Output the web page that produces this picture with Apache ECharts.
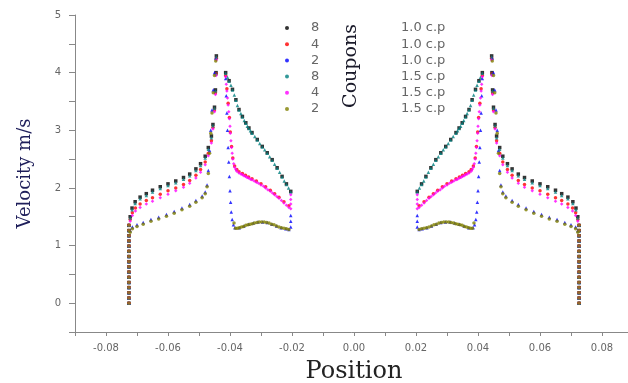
<!DOCTYPE html>
<html>
<head>
<meta charset="utf-8">
<script src="https://cdn.jsdelivr.net/npm/echarts@6/dist/echarts.min.js"></script>
<style>
  html, body { margin: 0; padding: 0; background: #fff; }
  #chart { width: 628px; height: 383px; }
</style>
</head>
<body>
<div id="chart"></div>
<script>
  // left half of each profile, [position, velocity]; the right half is its mirror
  const edgeY = [0, 0.09, 0.18, 0.27, 0.36, 0.45, 0.54, 0.63, 0.72, 0.81, 0.9, 0.99, 1.08, 1.17, 1.26, 1.35]

  const outer8a = [[-0.0722, 1.5], [-0.0716, 1.65], [-0.0706, 1.76], [-0.069, 1.84], [-0.067, 1.9], [-0.065, 1.96], [-0.0625, 2.02], [-0.06, 2.07], [-0.0575, 2.12], [-0.055, 2.18], [-0.053, 2.24], [-0.051, 2.33], [-0.0495, 2.42], [-0.048, 2.55], [-0.047, 2.7], [-0.046, 2.9], [-0.0455, 3.1], [-0.045, 3.4], [-0.0447, 3.7], [-0.0445, 4.0], [-0.0444, 4.29]]
  const outer4a = [[-0.0722, 1.45], [-0.0715, 1.57], [-0.0705, 1.65], [-0.069, 1.72], [-0.067, 1.78], [-0.065, 1.83], [-0.0625, 1.89], [-0.06, 1.95], [-0.0575, 2.0], [-0.055, 2.06], [-0.053, 2.13], [-0.051, 2.22], [-0.0495, 2.32], [-0.048, 2.45], [-0.047, 2.6], [-0.046, 2.82], [-0.0455, 3.05], [-0.045, 3.35], [-0.0447, 3.65], [-0.0445, 3.98], [-0.0444, 4.25]]
  const outer2a = [[-0.0722, 1.26], [-0.0715, 1.32], [-0.07, 1.36], [-0.068, 1.4], [-0.0655, 1.45], [-0.063, 1.49], [-0.0605, 1.54], [-0.058, 1.59], [-0.0555, 1.65], [-0.053, 1.71], [-0.051, 1.78], [-0.049, 1.86], [-0.048, 1.93], [-0.0474, 2.05], [-0.047, 2.3], [-0.0466, 2.65], [-0.0462, 3.0], [-0.0458, 3.35], [-0.0454, 3.7], [-0.045, 4.0], [-0.0446, 4.25]]
  const outer8b = [[-0.0722, 1.48], [-0.0716, 1.62], [-0.0706, 1.73], [-0.069, 1.81], [-0.067, 1.87], [-0.065, 1.93], [-0.0625, 1.99], [-0.06, 2.04], [-0.0575, 2.09], [-0.055, 2.15], [-0.053, 2.21], [-0.051, 2.3], [-0.0495, 2.39], [-0.048, 2.52], [-0.047, 2.67], [-0.046, 2.87], [-0.0455, 3.08], [-0.045, 3.38], [-0.0447, 3.68], [-0.0445, 3.98], [-0.0444, 4.27]]
  const outer4b = [[-0.0722, 1.42], [-0.0715, 1.52], [-0.0705, 1.6], [-0.069, 1.66], [-0.067, 1.72], [-0.065, 1.77], [-0.0625, 1.83], [-0.06, 1.89], [-0.0575, 1.95], [-0.055, 2.01], [-0.053, 2.08], [-0.051, 2.17], [-0.0495, 2.27], [-0.048, 2.4], [-0.047, 2.56], [-0.046, 2.78], [-0.0455, 3.02], [-0.045, 3.32], [-0.0447, 3.62], [-0.0445, 3.95], [-0.0444, 4.22]]
  const outer2b = [[-0.0722, 1.23], [-0.0715, 1.29], [-0.07, 1.33], [-0.068, 1.37], [-0.0655, 1.42], [-0.063, 1.46], [-0.0605, 1.51], [-0.058, 1.56], [-0.0555, 1.62], [-0.053, 1.68], [-0.051, 1.75], [-0.049, 1.83], [-0.048, 1.9], [-0.0474, 2.02], [-0.047, 2.25], [-0.0466, 2.6], [-0.0462, 2.95], [-0.0458, 3.3], [-0.0454, 3.65], [-0.045, 3.95], [-0.0446, 4.2]]

  const inner8a = [[-0.0414, 4.0], [-0.0403, 3.86], [-0.0392, 3.71], [-0.0381, 3.53], [-0.0371, 3.36], [-0.036, 3.24], [-0.0349, 3.13], [-0.0339, 3.04], [-0.0329, 2.96], [-0.0312, 2.84], [-0.0296, 2.72], [-0.028, 2.61], [-0.0264, 2.49], [-0.0248, 2.35], [-0.0232, 2.2], [-0.0218, 2.07], [-0.0204, 1.94]]
  const inner8b = [[-0.0414, 3.99], [-0.0408, 3.92], [-0.0403, 3.85], [-0.0397, 3.78], [-0.0392, 3.7], [-0.0386, 3.61], [-0.0381, 3.52], [-0.0376, 3.43], [-0.0371, 3.35], [-0.0365, 3.29], [-0.036, 3.23], [-0.0354, 3.17], [-0.0349, 3.12], [-0.0344, 3.07], [-0.0339, 3.03], [-0.0334, 2.99], [-0.0329, 2.95], [-0.032, 2.89], [-0.0312, 2.83], [-0.0304, 2.77], [-0.0296, 2.71], [-0.0288, 2.66], [-0.028, 2.6], [-0.0272, 2.54], [-0.0264, 2.48], [-0.0256, 2.41], [-0.0248, 2.34], [-0.024, 2.27], [-0.0232, 2.19], [-0.0225, 2.12], [-0.0218, 2.06], [-0.0211, 2.0], [-0.0204, 1.93]]
  const inner4a = [[-0.0414, 3.95], [-0.041, 3.72], [-0.0406, 3.47], [-0.0402, 3.22], [-0.0399, 2.97], [-0.0395, 2.72], [-0.0391, 2.52], [-0.0385, 2.38], [-0.0378, 2.32], [-0.0371, 2.28], [-0.036, 2.25], [-0.035, 2.22], [-0.034, 2.19], [-0.0329, 2.16], [-0.0315, 2.12], [-0.03, 2.07], [-0.0285, 2.02], [-0.027, 1.96], [-0.0256, 1.9], [-0.0242, 1.84], [-0.0226, 1.76], [-0.021, 1.69]]
  const inner4b = [[-0.0414, 3.93], [-0.0412, 3.8], [-0.041, 3.68], [-0.0408, 3.56], [-0.0406, 3.44], [-0.0404, 3.32], [-0.0402, 3.2], [-0.04, 3.07], [-0.0399, 2.95], [-0.0397, 2.82], [-0.0395, 2.7], [-0.0393, 2.6], [-0.0391, 2.5], [-0.0388, 2.42], [-0.0385, 2.36], [-0.0381, 2.32], [-0.0378, 2.29], [-0.0371, 2.26], [-0.0365, 2.24], [-0.036, 2.23], [-0.0355, 2.21], [-0.035, 2.2], [-0.0345, 2.18], [-0.034, 2.17], [-0.0334, 2.15], [-0.0329, 2.14], [-0.0322, 2.12], [-0.0315, 2.1], [-0.0308, 2.08], [-0.03, 2.05], [-0.0292, 2.03], [-0.0285, 2.0], [-0.0278, 1.97], [-0.027, 1.94], [-0.0263, 1.91], [-0.0256, 1.88], [-0.0249, 1.85], [-0.0242, 1.82], [-0.0234, 1.78], [-0.0226, 1.74], [-0.0218, 1.7], [-0.021, 1.66], [-0.0204, 1.64], [-0.0204, 1.72], [-0.0204, 1.8], [-0.0204, 1.88]]
  const inner2a = [[-0.0414, 3.9], [-0.0412, 3.6], [-0.041, 3.3], [-0.0408, 3.0], [-0.0406, 2.7], [-0.0404, 2.45], [-0.0402, 2.2], [-0.04, 1.95], [-0.0398, 1.75], [-0.0396, 1.58], [-0.0393, 1.45], [-0.0389, 1.36], [-0.0384, 1.31], [-0.037, 1.31], [-0.0355, 1.34], [-0.034, 1.37], [-0.0325, 1.39], [-0.031, 1.41], [-0.0295, 1.41], [-0.028, 1.4], [-0.0265, 1.37], [-0.025, 1.34], [-0.0235, 1.31], [-0.022, 1.29], [-0.021, 1.28], [-0.0204, 1.32], [-0.0204, 1.42], [-0.0204, 1.52]]
  const inner2b = [[-0.0387, 1.39], [-0.0382, 1.3], [-0.0376, 1.3], [-0.037, 1.31], [-0.0363, 1.32], [-0.0356, 1.33], [-0.0349, 1.35], [-0.0342, 1.36], [-0.0335, 1.37], [-0.0328, 1.38], [-0.0321, 1.39], [-0.0313, 1.4], [-0.0306, 1.41], [-0.0298, 1.41], [-0.029, 1.41], [-0.0282, 1.4], [-0.0274, 1.39], [-0.0266, 1.37], [-0.0258, 1.36], [-0.025, 1.34], [-0.0242, 1.32], [-0.0234, 1.31], [-0.0226, 1.3], [-0.0218, 1.29], [-0.021, 1.28]]

  const seriesNames = ['8 1.0 c.p', '4 1.0 c.p', '2 1.0 c.p', '8 1.5 c.p', '4 1.5 c.p', '2 1.5 c.p']
  const colors = ['#000000', '#ff0000', '#0000ff', '#008080', '#ff00ff', '#808000']
  const symbols = ['rect', 'circle', 'triangle', 'triangle', 'diamond', 'circle']
  const outerPts = [outer8a, outer4a, outer2a, outer8b, outer4b, outer2b]
  const innerPts = [inner8a, inner4a, inner2a, inner8b, inner4b, inner2b]
  const edgeX = -0.0726

  const chart = echarts.init(document.getElementById('chart'))

  const series = seriesNames.map((name, i) => {
    const edge = edgeY.map((y) => [edgeX, y])
    const left = edge.concat(outerPts[i], innerPts[i])
    const right = left.map((p) => [-p[0], p[1]])
    return {
      name: name,
      type: 'scatter',
      symbol: symbols[i],
      symbolSize: 3.5,
      itemStyle: { color: colors[i] },
      data: left.concat(right),
    }
  })

  const option = {
    animation: false,
    grid: { left: 75, right: -5, top: 15, bottom: 51, containLabel: false, outerBoundsMode: 'none' },
    legend: {
      orient: 'vertical',
      left: 280,
      top: 16,
      itemWidth: 4,
      itemHeight: 4,
      itemGap: 2.2,
      data: seriesNames.map((n) => ({ name: n, icon: 'circle' })),
      formatter: (n) => {
        const k = n.indexOf(' ')
        return '{g|}{n|' + n.slice(0, k) + '}{c|' + n.slice(k + 1) + '}'
      },
      textStyle: {
        lineHeight: 14,
        rich: {
          g: { width: 17 },
          n: { width: 90, fontFamily: 'DejaVu Sans', fontSize: 13, color: '#666' },
          c: { fontFamily: 'DejaVu Sans', fontSize: 13, color: '#666' },
        },
      },
    },
    xAxis: {
      type: 'value',
      min: -0.09,
      max: 0.09,
      interval: 0.01,
      name: 'Position',
      nameLocation: 'middle',
      nameGap: 28,
      nameTextStyle: { fontFamily: 'DejaVu Serif', fontSize: 24, color: '#222' },
      axisLine: { onZero: false, lineStyle: { color: '#888' } },
      axisTick: { length: 4, lineStyle: { color: '#888' } },
      axisLabel: {
        margin: 11,
        color: '#666',
        fontFamily: 'DejaVu Sans',
        fontSize: 10,
        formatter: (v) => {
          const k = Math.round(v * 100)
          if (k % 2 !== 0 || Math.abs(k) > 8) return ''
          return (k / 100).toFixed(2)
        },
      },
      splitLine: { show: false },
    },
    yAxis: {
      type: 'value',
      min: -0.5,
      max: 5,
      interval: 0.5,
      name: 'Velocity m/s',
      nameLocation: 'middle',
      nameGap: 41,
      nameTextStyle: { fontFamily: 'DejaVu Serif', fontSize: 18, color: '#1e1e5a' },
      axisLine: { show: true, onZero: false, lineStyle: { color: '#888' } },
      axisTick: { length: 6, lineStyle: { color: '#888' } },
      axisLabel: {
        margin: 14,
        color: '#666',
        fontFamily: 'DejaVu Sans',
        fontSize: 10,
        formatter: (v) => (Number.isInteger(v) ? String(v) : ''),
      },
      splitLine: { show: false },
    },
    graphic: [
      {
        type: 'text',
        x: 351,
        y: 66,
        rotation: Math.PI / 2,
        style: {
          text: 'Coupons',
          fontFamily: 'DejaVu Serif',
          fontSize: 19,
          fill: '#1a1a2a',
          align: 'center',
          verticalAlign: 'middle',
        },
      },
    ],
    series: series,
  }

  chart.setOption(option)
</script>
</body>
</html>
